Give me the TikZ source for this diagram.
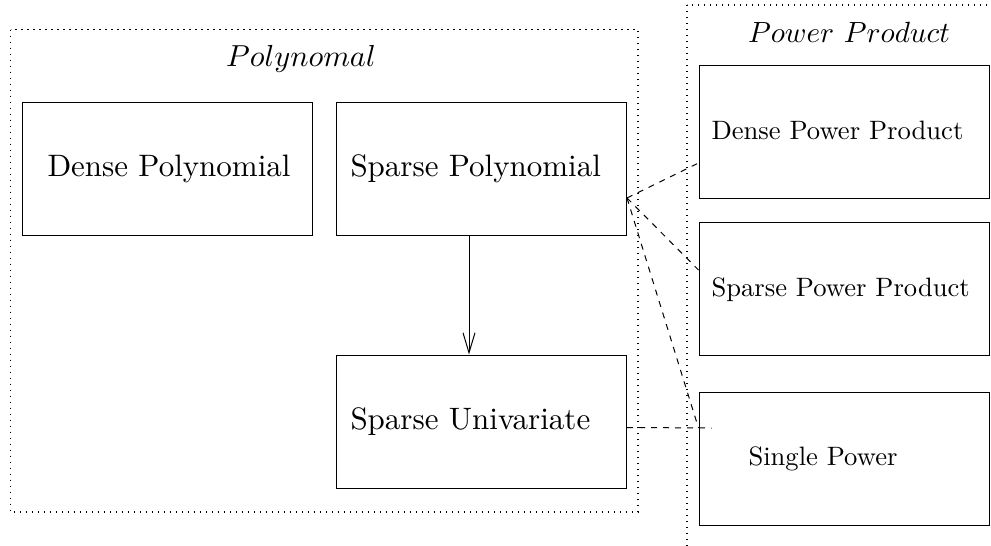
\documentclass[tikz,border=0pt]{standalone}
\usetikzlibrary{arrows.meta,calc}

\newcommand{\bigtxt}[1]{\scalebox{1.55}{#1}}
\newcommand{\smalltxt}[1]{\scalebox{1.33}{#1}}

\tikzset{every picture/.style={line width=0.5pt}}
\tikzset{
  classbox/.style={draw, rectangle, minimum width=145pt, minimum height=66.5pt, inner sep=0pt},
  groupframe/.style={draw, line width=0.6pt, dash pattern=on 0.6pt off 2.4pt},
  labeltext/.style={anchor=base west, inner sep=0pt},
  uses/.style={dashed},
}

\begin{document}
\begin{tikzpicture}[x=0.5pt,y=0.5pt,yscale=-1,xscale=1]
\useasboundingbox (0,0) rectangle (991,546);
\clip (0,0) rectangle (991,546);

%Group frames
\draw[groupframe] (10.5,29.5) rectangle (638,512);
\draw[groupframe] (687,5) rectangle (1010,570);

% Group titles
\node[labeltext, anchor=base] (polytitle) at (301,66) {\scalebox{1.52}{$Polynomal$}};
\node[labeltext, anchor=base] (pptitle) at (849,42) {\scalebox{1.46}{$Power\ Product$}};

%Boxes
\node[classbox] (dpoly) at (167,168.5) {};
\node[classbox] (spoly) at (481.5,168.5) {};
\node[classbox] (suni) at (481.5,421.5) {};
\node[classbox] (dpp) at (844,132) {};
\node[classbox] (spp) at (844,289) {};
\node[classbox] (spow) at (844,458.5) {};

% Text Node
\node[labeltext] (dpolytext) at (47,176) {\bigtxt{Dense Polynomial}};
\node[labeltext] (spolytext) at (350,176) {\bigtxt{Sparse Polynomial}};
\node[labeltext] (sunitext) at (350,429) {\bigtxt{Sparse Univariate}};
\node[labeltext] (dpptext) at (711,139) {\smalltxt{Dense Power Product}};
\node[labeltext] (spptext) at (711,296) {\smalltxt{Sparse Power Product}};
\node[labeltext] (spowtext) at (748,465) {\smalltxt{Single Power}};

%Straight Lines
\draw[-{Straight Barb[length=10pt,width=6pt]}] ($(spoly.south)+(-12.5,0)$) -- ($(suni.north)+(-12.5,0)$);

%Dashed Lines
\coordinate (spout) at ($(spoly.east)+(0,29.5)$);
\draw[uses] (spout) -- ($(dpp.west)+(0,31)$);
\draw[uses] (spout) -- ($(spp.west)+(0,-19)$);
\draw[uses] (spout) -- ($(spow.west)+(0,-30.5)$);
\draw[uses] ($(suni.east)+(0,6)$) -- ($(spow.west)+(13,-30.5)$);

\end{tikzpicture}
\end{document}
